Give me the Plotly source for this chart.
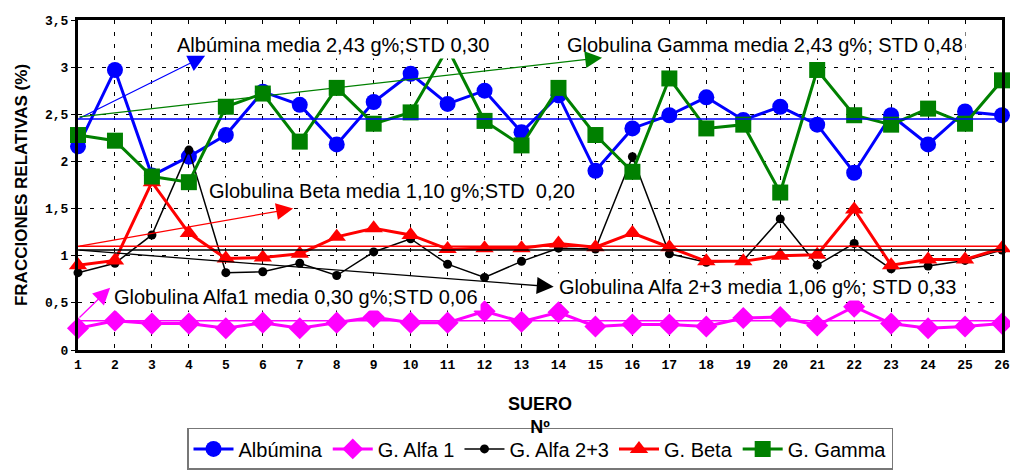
"""Fracciones relativas de proteinas sericas por suero."""

import plotly.graph_objects as go

sueros = list(range(1, 27))

albumina = [2.16, 2.97, 1.85, 2.05, 2.28, 2.74, 2.60, 2.18, 2.63, 2.93, 2.61, 2.75, 2.31,
            2.70, 1.90, 2.35, 2.49, 2.68, 2.44, 2.58, 2.39, 1.88, 2.49, 2.18, 2.53, 2.49]
alfa1 = [0.23, 0.31, 0.28, 0.28, 0.23, 0.29, 0.23, 0.29, 0.35, 0.29, 0.29, 0.41, 0.30,
         0.40, 0.25, 0.27, 0.27, 0.25, 0.34, 0.35, 0.26, 0.46, 0.28, 0.23, 0.25, 0.28]
alfa23 = [0.82, 0.92, 1.22, 2.12, 0.82, 0.83, 0.92, 0.79, 1.04, 1.18, 0.91, 0.77, 0.94,
          1.08, 1.07, 2.05, 1.02, 0.93, 0.95, 1.39, 0.90, 1.13, 0.86, 0.89, 0.95, 1.06]
beta = [0.90, 0.95, 1.78, 1.24, 0.97, 0.98, 1.02, 1.20, 1.29, 1.22, 1.07, 1.08, 1.08,
        1.13, 1.09, 1.24, 1.09, 0.94, 0.94, 1.00, 1.01, 1.49, 0.90, 0.96, 0.96, 1.08]
gamma = [2.28, 2.22, 1.84, 1.78, 2.58, 2.72, 2.21, 2.78, 2.40, 2.52, 3.20, 2.43, 2.17,
         2.78, 2.28, 1.89, 2.88, 2.35, 2.39, 1.67, 2.97, 2.49, 2.39, 2.56, 2.40, 2.86]

# reference (mean) lines drawn across the plot
medias = {"blue": 2.45, "red": 1.10, "black": 1.06, "magenta": 0.31}

y_ticks = [0, 0.5, 1, 1.5, 2, 2.5, 3, 3.5]
y_ticktext = ["0", "0,5", "1", "1,5", "2", "2,5", "3", "3,5"]

series = [
    ("Albúmina", albumina, "#0000FF", "circle", 16, 3),
    ("G. Alfa 1", alfa1, "#FF00FF", "diamond", 17, 3),
    ("G. Alfa 2+3", alfa23, "#000000", "circle", 9, 1.5),
    ("G. Beta", beta, "#FF0000", "triangle-up", 16, 3),
    ("G. Gamma", gamma, "#008000", "square", 16, 3),
]

fig = go.Figure()
for name, vals, color, symbol, size, lw in series:
    fig.add_trace(go.Scatter(
        x=sueros, y=vals, name=name, mode="lines+markers",
        line=dict(color=color, width=lw),
        marker=dict(color=color, symbol=symbol, size=size),
        cliponaxis=False,
    ))

for color, val in medias.items():
    fig.add_shape(type="line", x0=sueros[0], x1=sueros[-1], y0=val, y1=val,
                  line=dict(color=color, width=1.5))

sans = "Liberation Sans, Arial"

labels = [
    ("Albúmina media 2,43 g%;STD 0,30", 3.59, 3.23),
    ("Globulina Gamma media 2,43 g%; STD 0,48", 14.14, 3.23),
    ("Globulina Beta media 1,10 g%;STD  0,20", 4.47, 1.69),
    ("Globulina Alfa1 media 0,30 g%;STD 0,06", 1.89, 0.56),
    ("Globulina Alfa 2+3 media 1,06 g%; STD 0,33", 13.92, 0.67),
]
for text, x, y in labels:
    fig.add_annotation(x=x, y=y, text=text, showarrow=False, xanchor="left",
                       yanchor="middle", bgcolor="white", borderpad=2,
                       font=dict(family=sans, size=20, color="black"))

arrows = [
    ("#0000FF", 1, 2.45, 4.44, 3.12),
    ("#008000", 1, 2.47, 15.18, 3.10),
    ("#FF0000", 1, 1.10, 6.82, 1.50),
    ("#000000", 1, 1.06, 13.87, 0.67),
    ("#FF00FF", 1, 0.33, 1.87, 0.66),
]
for color, x0, y0, x1, y1 in arrows:
    fig.add_annotation(x=x1, y=y1, ax=x0, ay=y0, xref="x", yref="y", axref="x", ayref="y",
                       text="", showarrow=True, arrowhead=2, arrowsize=2.6,
                       arrowwidth=1.3, arrowcolor=color)

fig.update_layout(
    width=1010, height=471,
    paper_bgcolor="white", plot_bgcolor="white",
    margin=dict(l=78, r=8, t=20, b=121, autoexpand=False),
    showlegend=True,
    legend=dict(orientation="h", x=0.5, xanchor="center", y=-0.236, yanchor="top",
                bgcolor="white", bordercolor="#777777", borderwidth=1.5,
                font=dict(family=sans, size=20, color="black"),
                itemwidth=40, tracegroupgap=0),
)

fig.update_xaxes(
    range=[1, 26], tickvals=sueros, ticktext=[str(s) for s in sueros],
    showgrid=True, gridcolor="black", gridwidth=1, griddash="4px,8px",
    showline=True, linecolor="black", linewidth=3, mirror=True,
    ticks="", zeroline=False, automargin=False, ticklabeloverflow="allow",
    tickfont=dict(family="Liberation Mono", size=13, color="black", weight="bold"),
    title=dict(text="<b>SUERO</b><br><b>Nº</b>", standoff=26,
               font=dict(family=sans, size=18, color="black")),
)
fig.update_yaxes(
    range=[0, 3.5], tickvals=y_ticks, ticktext=y_ticktext,
    showgrid=True, gridcolor="black", gridwidth=1, griddash="4px,8px",
    showline=True, linecolor="black", linewidth=3, mirror=True,
    ticks="outside", ticklen=4, tickwidth=1, tickcolor="black", zeroline=False,
    automargin=False,
    tickfont=dict(family="Liberation Mono", size=13, color="black", weight="bold"),
    title=dict(text="<b>FRACCIONES RELATIVAS (%)</b>", standoff=14,
               font=dict(family=sans, size=17, color="black")),
)

fig.write_html("out.html", config={"displayModeBar": False},
               post_script="document.body.style.margin = '0';")
